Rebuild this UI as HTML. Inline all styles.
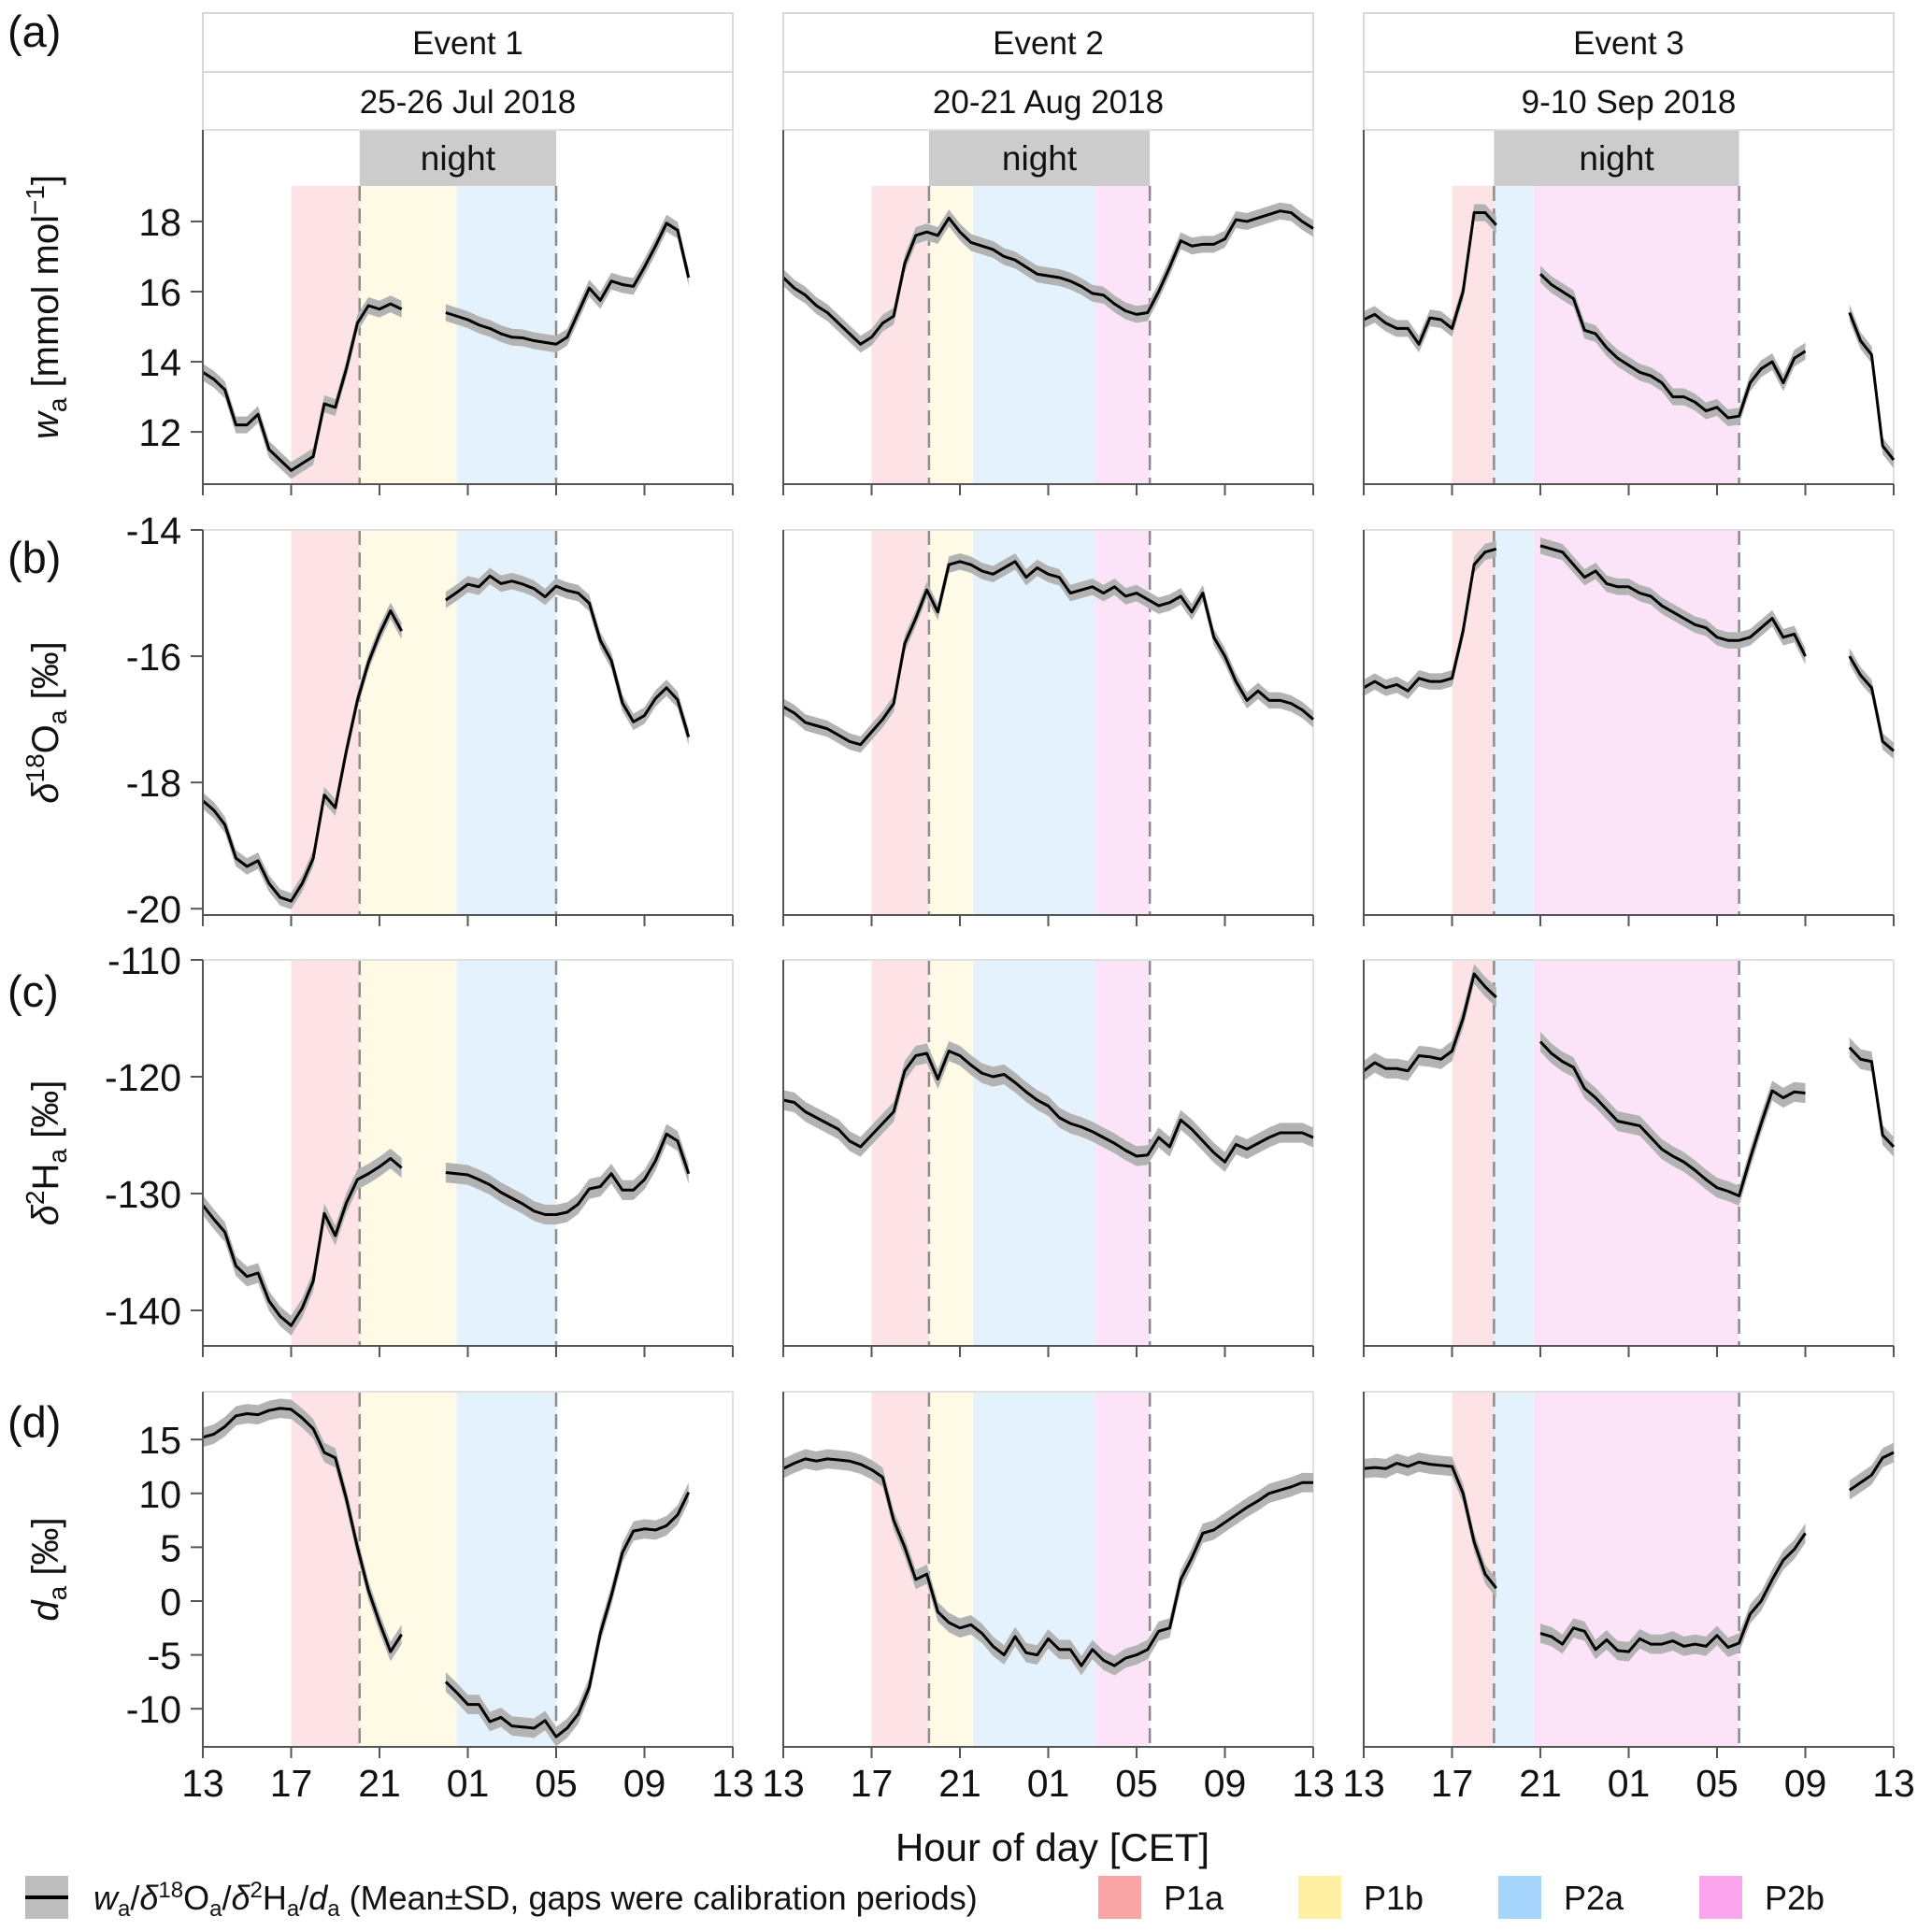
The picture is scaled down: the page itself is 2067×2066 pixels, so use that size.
<!DOCTYPE html>
<html><head><meta charset="utf-8">
<style>
html,body{margin:0;padding:0;background:#fff;}
svg{display:block;font-family:"Liberation Sans",sans-serif;}
</style></head>
<body>
<svg id="chart" width="2067" height="2066" viewBox="0 0 2067 2066" xmlns="http://www.w3.org/2000/svg"></svg>
<script>
// ---------- DATA ----------
const hours = [13,13.5,14,14.5,15,15.5,16,16.5,17,17.5,18,18.5,19,19.5,20,20.5,21,21.5,22,22.5,23,23.5,24,24.5,25,25.5,26,26.5,27,27.5,28,28.5,29,29.5,30,30.5,31,31.5,32,32.5,33,33.5,34,34.5,35,35.5,36,36.5,37];
const xTickHours = [13,17,21,25,29,33,37];
const xTickLabels = ["13","17","21","01","05","09","13"];
const eventTitles = ["Event 1","Event 2","Event 3"];
const eventDates = ["25-26 Jul 2018","20-21 Aug 2018","9-10 Sep 2018"];
const N = null;
// Event 1
const e1W = [13.7,13.5,13.2,12.2,12.2,12.5,11.5,11.2,10.9,11.1,11.3,12.8,12.7,13.8,15.1,15.6,15.5,15.65,15.5,N,N,N,15.4,15.3,15.2,15.05,14.95,14.8,14.7,14.68,14.6,14.55,14.5,14.7,15.4,16.1,15.75,16.3,16.2,16.15,16.7,17.3,17.95,17.75,16.4,N,N,N,N];
const e1O = [-18.29,-18.44,-18.67,-19.2,-19.33,-19.24,-19.6,-19.82,-19.88,-19.6,-19.2,-18.2,-18.4,-17.5,-16.7,-16.1,-15.65,-15.28,-15.6,N,N,N,-15.11,-14.99,-14.86,-14.9,-14.73,-14.85,-14.81,-14.86,-14.93,-15.06,-14.89,-14.96,-15.0,-15.16,-15.75,-16.07,-16.74,-17.04,-16.94,-16.67,-16.5,-16.69,-17.28,N,N,N,N];
const e1H = [-131.0,-132.2,-133.3,-136.2,-137.1,-136.8,-139.2,-140.5,-141.3,-139.8,-137.5,-131.7,-133.6,-130.8,-128.8,-128.3,-127.7,-127.0,-127.8,N,N,N,-128.2,-128.3,-128.4,-128.8,-129.25,-129.9,-130.4,-130.9,-131.5,-131.8,-131.8,-131.6,-130.9,-129.6,-129.4,-128.3,-129.7,-129.7,-128.8,-127.2,-124.9,-125.5,-128.3,N,N,N,N];
const e1D = [15.2,15.5,16.2,17.2,17.4,17.3,17.7,17.9,17.8,17.0,16.0,13.8,13.3,9.5,5.0,1.0,-2.0,-4.7,-3.1,N,N,N,-7.5,-8.5,-9.6,-9.6,-11.2,-10.8,-11.6,-11.7,-11.8,-11.1,-12.6,-11.8,-10.5,-8.0,-3.0,0.5,4.5,6.5,6.7,6.6,7.0,8.0,10.1,N,N,N,N];
// Event 2
const e2W = [16.4,16.1,15.9,15.6,15.4,15.1,14.8,14.5,14.7,15.1,15.3,16.8,17.6,17.7,17.6,18.1,17.7,17.4,17.3,17.2,17.0,16.9,16.7,16.5,16.45,16.4,16.3,16.15,15.95,15.9,15.65,15.45,15.35,15.4,16.0,16.7,17.45,17.3,17.35,17.35,17.5,18.05,18.0,18.1,18.2,18.3,18.25,18.0,17.8];
const e2O = [-16.8,-16.9,-17.05,-17.1,-17.15,-17.25,-17.35,-17.4,-17.2,-17.0,-16.75,-15.8,-15.4,-14.95,-15.3,-14.55,-14.5,-14.55,-14.65,-14.7,-14.6,-14.5,-14.75,-14.6,-14.7,-14.75,-15.0,-14.95,-14.9,-15.0,-14.9,-15.05,-15.0,-15.1,-15.2,-15.15,-15.05,-15.3,-15.0,-15.7,-16.0,-16.4,-16.7,-16.55,-16.7,-16.7,-16.75,-16.85,-17.0];
const e2H = [-122,-122.2,-123,-123.5,-124,-124.5,-125.5,-126,-125,-124,-123,-119.5,-118.2,-118,-120.2,-117.8,-118.2,-119,-119.7,-120,-119.8,-120.5,-121.3,-122,-122.5,-123.5,-124,-124.3,-124.7,-125.2,-125.7,-126.3,-126.8,-126.7,-125.2,-126.0,-123.7,-124.5,-125.5,-126.5,-127.3,-125.8,-126.2,-125.7,-125.2,-124.8,-124.8,-124.8,-125.2];
const e2D = [12.3,12.8,13.2,13.0,13.2,13.1,13.0,12.7,12.2,11.5,7.5,5.0,2.0,2.5,-1.0,-2.0,-2.5,-2.2,-3.0,-4.2,-5.0,-3.3,-4.8,-5.0,-3.5,-4.5,-4.5,-6.0,-4.5,-5.5,-6.0,-5.3,-5.0,-4.5,-2.8,-2.5,2.0,4.0,6.3,6.6,7.3,8.0,8.7,9.3,10.0,10.3,10.6,11.0,11.0];
// Event 3
const e3W = [15.2,15.35,15.1,14.95,14.95,14.5,15.25,15.2,14.95,16.0,18.25,18.25,17.9,N,N,N,16.5,16.2,16.0,15.8,14.9,14.8,14.4,14.1,13.9,13.7,13.6,13.4,13.0,13.0,12.85,12.6,12.7,12.4,12.45,13.4,13.8,14.0,13.4,14.1,14.3,N,N,N,15.4,14.6,14.2,11.6,11.2];
const e3O = [-16.5,-16.4,-16.5,-16.45,-16.55,-16.35,-16.4,-16.4,-16.35,-15.6,-14.55,-14.35,-14.3,N,N,N,-14.25,-14.3,-14.35,-14.55,-14.75,-14.65,-14.85,-14.9,-14.9,-15.0,-15.05,-15.2,-15.3,-15.4,-15.5,-15.55,-15.7,-15.75,-15.75,-15.7,-15.55,-15.4,-15.7,-15.65,-16.0,N,N,N,-16.0,-16.3,-16.5,-17.35,-17.5];
const e3H = [-119.5,-118.8,-119.3,-119.3,-119.5,-118.2,-118.3,-118.5,-117.8,-115,-111.2,-112.3,-113.2,N,N,N,-117,-118,-118.7,-119.2,-121,-121.8,-122.8,-123.8,-124,-124.2,-125.2,-126.2,-126.8,-127.3,-128,-128.8,-129.5,-129.8,-130.2,-127,-124,-121.2,-121.8,-121.3,-121.4,N,N,N,-117.5,-118.5,-118.7,-125,-126];
const e3D = [12.3,12.4,12.3,12.8,12.5,12.9,12.7,12.6,12.5,10.0,5.5,2.5,1.2,N,N,N,-3.0,-3.3,-4.0,-2.5,-2.8,-4.5,-3.6,-4.6,-4.7,-3.5,-4.0,-4.0,-3.7,-4.2,-4.0,-4.2,-3.2,-4.3,-3.9,-1.2,0.0,2.0,3.8,4.8,6.3,N,N,N,10.3,11.0,11.7,13.3,13.8];
// typical SD per variable row (a,b,c,d)
const sdRow = [0.24,0.13,0.85,0.9];
// periods: [start hour, end hour] per event
const e1P1a=[17,20.1], e1P1b=[20.1,24.5], e1P2a=[24.5,29], e1P2b=null;
const e2P1a=[17,19.6], e2P1b=[19.6,21.6], e2P2a=[21.6,27.1], e2P2b=[27.1,29.6];
const e3P1a=[17,18.9], e3P1b=null, e3P2a=[18.9,20.7], e3P2b=[20.7,30.0];
const nightStart=[20.1,19.6,18.9], nightEnd=[29,29.6,30.0];
// y ticks per row
const aTicks=[12,14,16,18], bTicks=[-20,-18,-16,-14], cTicks=[-140,-130,-120,-110], dTicks=[-10,-5,0,5,10,15];

// ---------- LAYOUT ----------
const NS="http://www.w3.org/2000/svg";
const svg=document.getElementById('chart');
function el(tag,attrs,parent){const e=document.createElementNS(NS,tag);for(const k in attrs)e.setAttribute(k,attrs[k]);(parent||svg).appendChild(e);return e;}
const panelLeft=[217,838,1459], panelW=567;
const rows=[
 {top:139,bottom:518,vTop:20.61,vBot:10.51,ticks:aTicks,label:"(a)",labY:33},
 {top:567,bottom:979,vTop:-14,vBot:-20.10,ticks:bTicks,label:"(b)",labY:596},
 {top:1027,bottom:1440,vTop:-110,vBot:-143.04,ticks:cTicks,label:"(c)",labY:1060},
 {top:1489,bottom:1869,vTop:19.44,vBot:-13.54,ticks:dTicks,label:"(d)",labY:1521}];
const series=[[e1W,e1O,e1H,e1D],[e2W,e2O,e2H,e2D],[e3W,e3O,e3H,e3D]];
const periods=[[e1P1a,e1P1b,e1P2a,e1P2b],[e2P1a,e2P1b,e2P2a,e2P2b],[e3P1a,e3P1b,e3P2a,e3P2b]];
const pColors=["#fde3e5","#fefae6","#e3f2fd","#fbe3f8"];
const pNames=["p1a","p1b","p2a","p2b"];
function xs(p,h){return panelLeft[p]+(h-13)/24*panelW;}
function ys(r,v){const R=rows[r];return R.top+(R.vTop-v)/(R.vTop-R.vBot)*(R.bottom-R.top);}

// strips
for(let p=0;p<3;p++){
  const g=el('g',{});
  
  
  el('rect',{x:panelLeft[p],y:14,width:panelW,height:125,fill:'#fff',stroke:'#d9d9d9','stroke-width':2},g);
  el('line',{x1:panelLeft[p],x2:panelLeft[p]+panelW,y1:77,y2:77,stroke:'#d9d9d9','stroke-width':2},g);
  const t1=el('text',{x:panelLeft[p]+panelW/2,y:58,'text-anchor':'middle','font-size':35,fill:'#111'},g);t1.textContent=eventTitles[p];
  const t2=el('text',{x:panelLeft[p]+panelW/2,y:121,'text-anchor':'middle','font-size':35,fill:'#111'},g);t2.textContent=eventDates[p];
}

for(let r=0;r<4;r++){
  const R=rows[r];
  for(let p=0;p<3;p++){
    const g=el('g',{});
    
    
    const bandTop = r===0 ? 199 : R.top;
    periods[p].forEach((pr,i)=>{
      if(!pr) return;
      const rc=el('rect',{x:xs(p,pr[0]),y:bandTop,width:xs(p,pr[1])-xs(p,pr[0]),height:R.bottom-bandTop,fill:pColors[i]},g);
      
      
    });
    if(r===0){
      const nb=el('rect',{x:xs(p,nightStart[p]),y:139,width:xs(p,nightEnd[p])-xs(p,nightStart[p]),height:60,fill:'#cccccc'},g);
      
      
      const nt=el('text',{x:(xs(p,nightStart[p])+xs(p,nightEnd[p]))/2,y:182,'text-anchor':'middle','font-size':37,fill:'#111'},g);
      nt.textContent='night';
    }
    [nightStart[p],nightEnd[p]].forEach(h=>{
      el('line',{x1:xs(p,h),x2:xs(p,h),y1:bandTop,y2:R.bottom,stroke:'#8c8c8c','stroke-width':2.5,'stroke-dasharray':'16,8'},g);
    });
    el('line',{x1:panelLeft[p],x2:panelLeft[p]+panelW,y1:R.top,y2:R.top,stroke:'#e0e0e0','stroke-width':2},g);
    el('line',{x1:panelLeft[p]+panelW,x2:panelLeft[p]+panelW,y1:R.top,y2:R.bottom,stroke:'#e0e0e0','stroke-width':2},g);
    const data=series[p][r], sd=sdRow[r];
    let segs=[],cur=[];
    data.forEach((v,i)=>{ if(v===null){ if(cur.length) segs.push(cur); cur=[]; } else cur.push(i); });
    if(cur.length) segs.push(cur);
    segs.forEach(seg=>{
      const up=seg.map(i=>xs(p,hours[i])+','+ys(r,data[i]+sd));
      const dn=seg.slice().reverse().map(i=>xs(p,hours[i])+','+ys(r,data[i]-sd));
      const band=el('polygon',{points:up.concat(dn).join(' '),fill:'#b3b3b3'},g);
      
      
      const ln=el('polyline',{points:seg.map(i=>xs(p,hours[i])+','+ys(r,data[i])).join(' '),fill:'none',stroke:'#000','stroke-width':3,'stroke-linejoin':'round'},g);
      
      
    });
    el('line',{x1:panelLeft[p],x2:panelLeft[p],y1:R.top,y2:R.bottom,stroke:'#555','stroke-width':2},g);
    el('line',{x1:panelLeft[p],x2:panelLeft[p]+panelW,y1:R.bottom,y2:R.bottom,stroke:'#555','stroke-width':2},g);
    xTickHours.forEach((h,i)=>{
      el('line',{x1:xs(p,h),x2:xs(p,h),y1:R.bottom,y2:R.bottom+12,stroke:'#555','stroke-width':2},g);
      if(r===3){
        const tl=el('text',{x:xs(p,h),y:1922,'text-anchor':'middle','font-size':41,fill:'#111'},g);
        tl.textContent=xTickLabels[i];
      }
    });
    if(p===0){
      R.ticks.forEach(v=>{
        el('line',{x1:204,x2:217,y1:ys(r,v),y2:ys(r,v),stroke:'#555','stroke-width':2},g);
        const tl=el('text',{x:194,y:ys(r,v)+15,'text-anchor':'end','font-size':41,fill:'#111'},g);
        tl.textContent=String(v);
      });
    }
  }
  const pl=el('text',{x:8,y:R.labY+17,'font-size':47,fill:'#111'});
  
  
  pl.textContent=R.label;
}

const yTitles=[
 '<tspan font-style="italic">w</tspan><tspan font-size="28" dy="9">a</tspan><tspan dy="-9"> [mmol mol</tspan><tspan font-size="28" dy="-15">−1</tspan><tspan dy="15">]</tspan>',
 '<tspan font-style="italic">δ</tspan><tspan font-size="28" dy="-15">18</tspan><tspan dy="15">O</tspan><tspan font-size="28" dy="9">a</tspan><tspan dy="-9"> [‰]</tspan>',
 '<tspan font-style="italic">δ</tspan><tspan font-size="28" dy="-15">2</tspan><tspan dy="15">H</tspan><tspan font-size="28" dy="9">a</tspan><tspan dy="-9"> [‰]</tspan>',
 '<tspan font-style="italic">d</tspan><tspan font-size="28" dy="9">a</tspan><tspan dy="-9"> [‰]</tspan>'];
const yTitleNames=['y-axis-title-wa','y-axis-title-d18o','y-axis-title-d2h','y-axis-title-da'];
for(let r=0;r<4;r++){
  const R=rows[r];const cy=(R.top+R.bottom)/2;
  const t=el('text',{x:0,y:0,'text-anchor':'middle','font-size':40,fill:'#111',transform:'translate(62,'+cy+') rotate(-90)'});
  
  
  t.innerHTML=yTitles[r];
}
const xt=el('text',{x:1126,y:1991,'text-anchor':'middle','font-size':42,fill:'#111'});


xt.textContent='Hour of day [CET]';

const lg=el('g',{});


el('rect',{x:27,y:2007,width:46,height:46,fill:'#bdbdbd'},lg);
el('line',{x1:27,x2:73,y1:2030,y2:2030,stroke:'#000','stroke-width':4},lg);
const lt=el('text',{x:100,y:2043,'font-size':36,fill:'#111'},lg);
lt.innerHTML='<tspan font-style="italic">w</tspan><tspan font-size="24" dy="7">a</tspan><tspan dy="-7">/</tspan><tspan font-style="italic">δ</tspan><tspan font-size="24" dy="-13">18</tspan><tspan dy="13">O</tspan><tspan font-size="24" dy="7">a</tspan><tspan dy="-7">/</tspan><tspan font-style="italic">δ</tspan><tspan font-size="24" dy="-13">2</tspan><tspan dy="13">H</tspan><tspan font-size="24" dy="7">a</tspan><tspan dy="-7">/</tspan><tspan font-style="italic">d</tspan><tspan font-size="24" dy="7">a</tspan><tspan dy="-7"> (Mean±SD, gaps were calibration periods)</tspan>';
const legNames=["P1a","P1b","P2a","P2b"], legColors=["#f9a5a5","#fdf0a3","#a5d5fb","#fba5ef"], legX=[1175,1389,1603,1818];
legNames.forEach((n,i)=>{
  const e=el('g',{},lg);
  
  
  el('rect',{x:legX[i],y:2007,width:46,height:46,fill:legColors[i]},e);
  const t=el('text',{x:legX[i]+70,y:2043,'font-size':36,fill:'#111'},e);t.textContent=n;
});
</script>
</body></html>
